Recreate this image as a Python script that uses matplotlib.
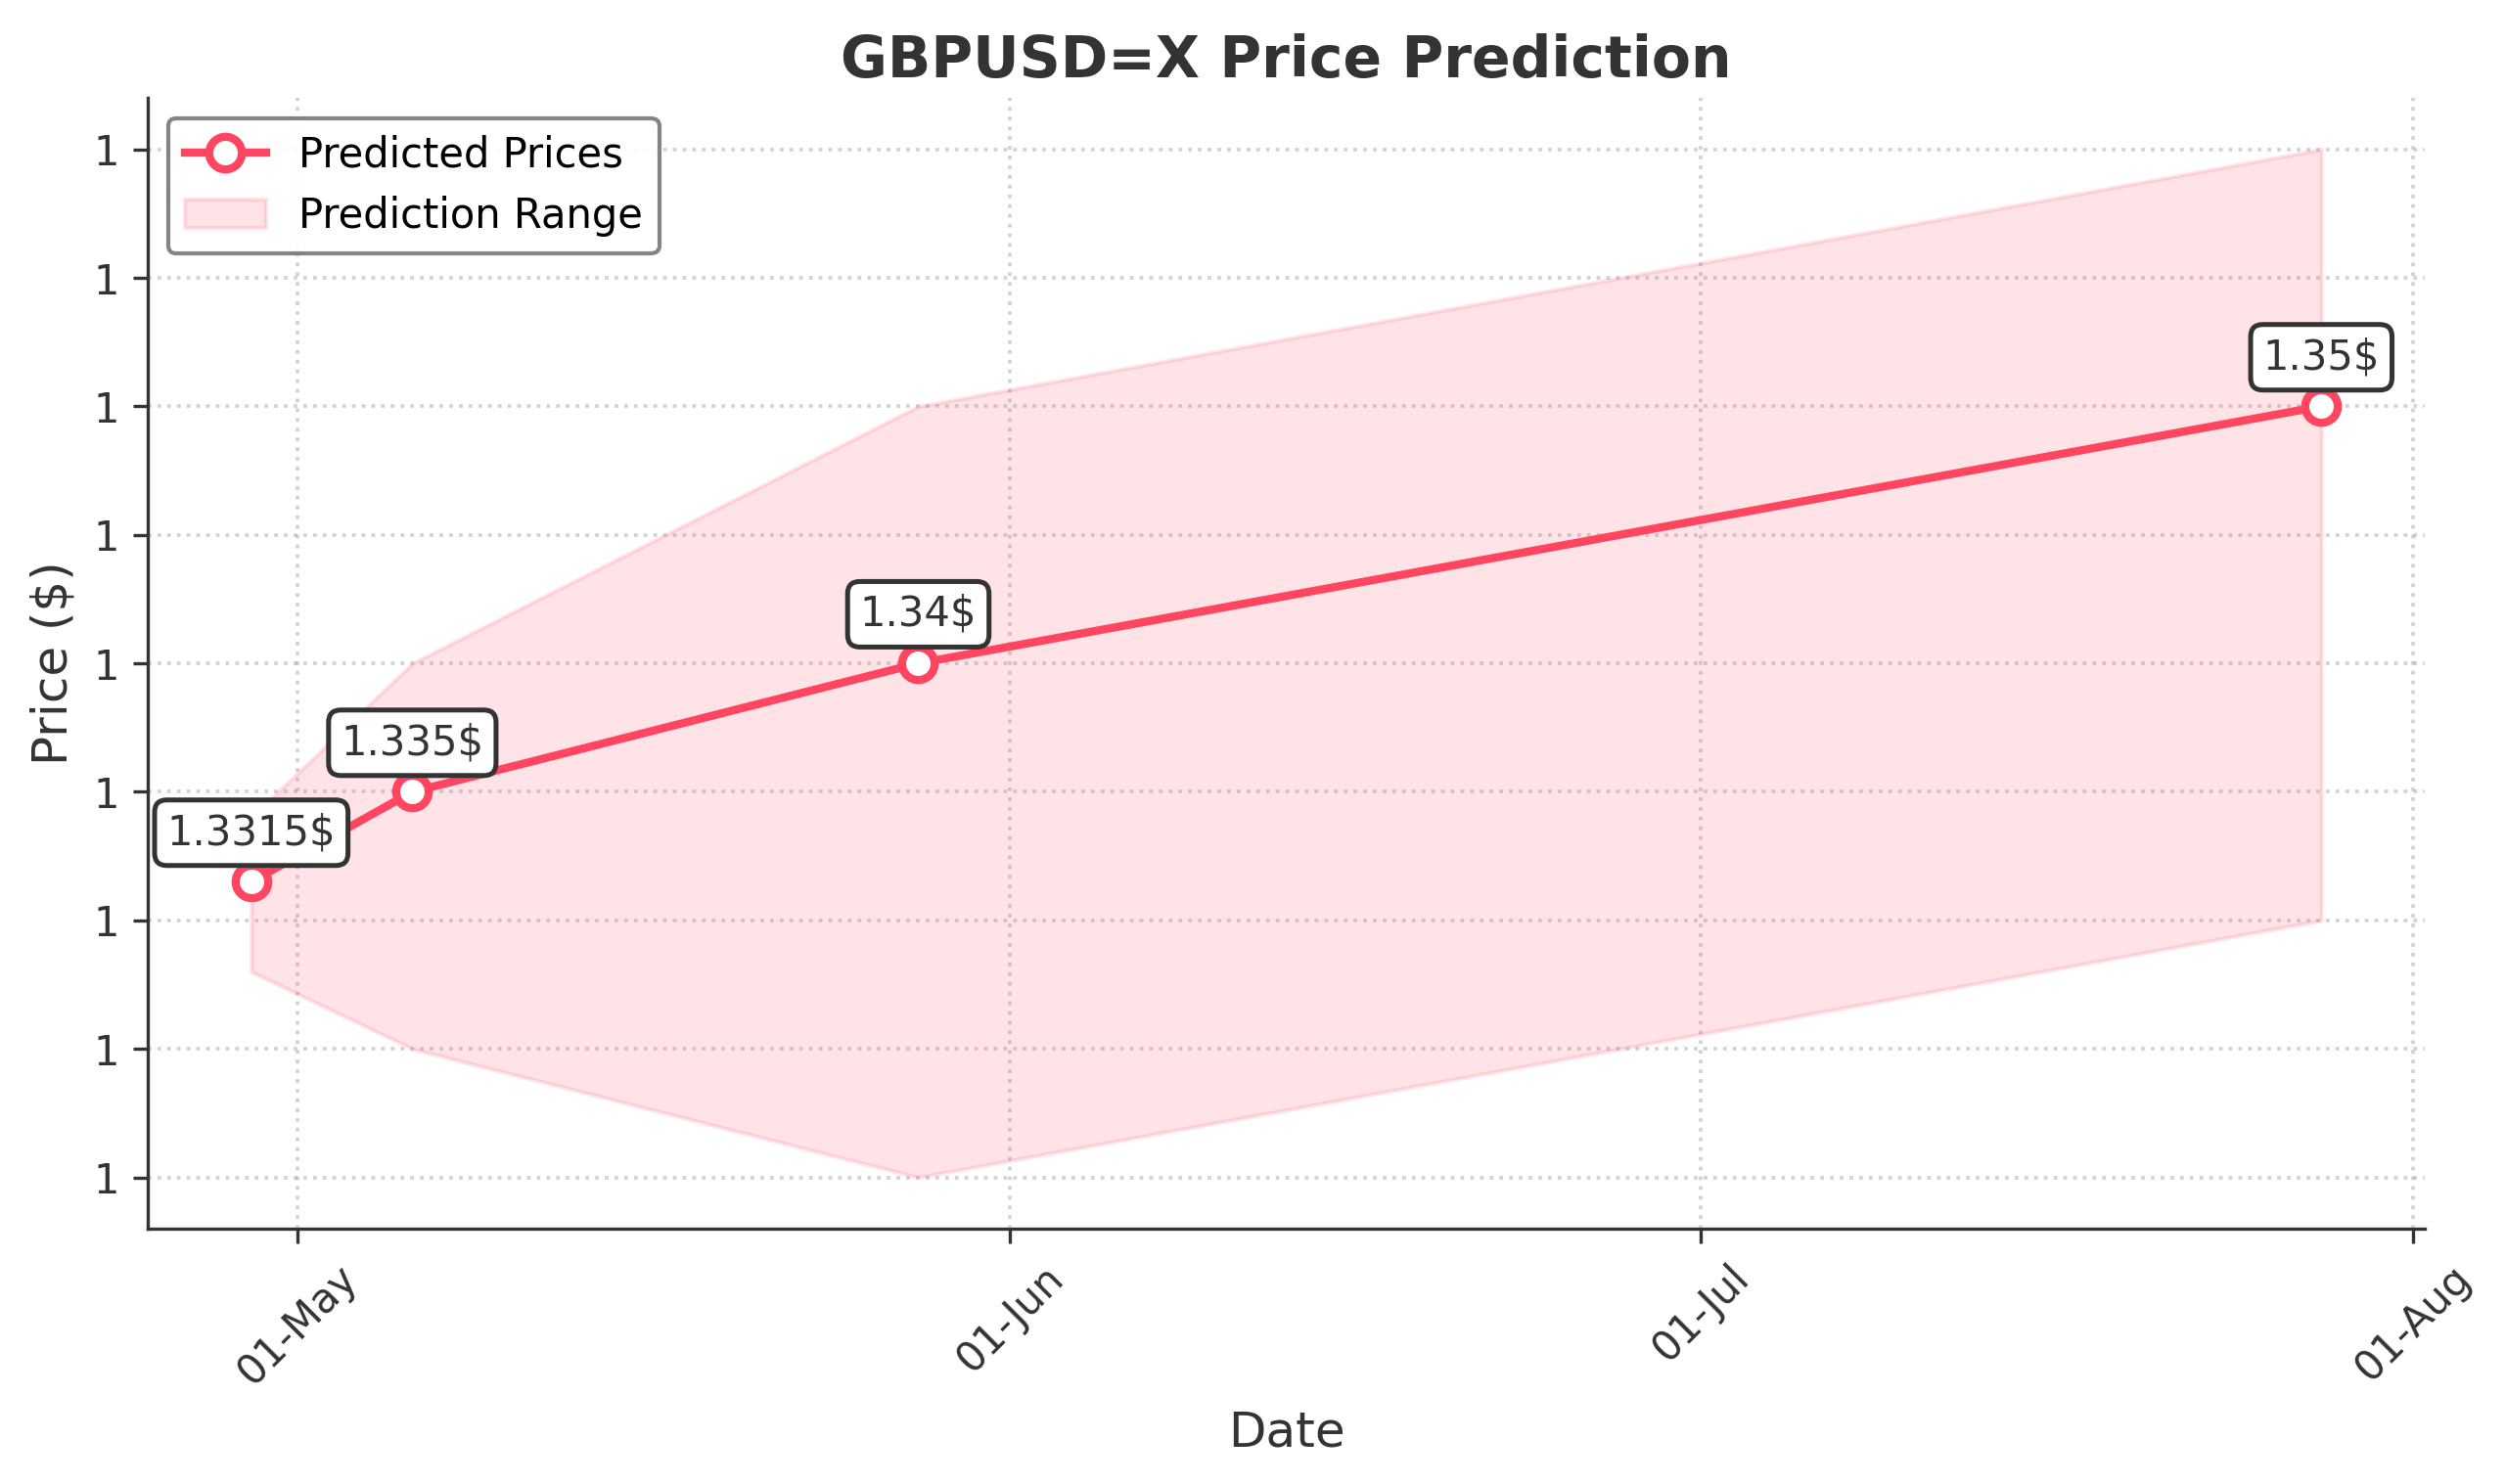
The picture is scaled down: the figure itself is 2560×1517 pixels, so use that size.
import matplotlib
matplotlib.use('Agg')
import matplotlib.pyplot as plt
import matplotlib.dates as mdates
import matplotlib.ticker as mticker
import pandas as pd

# values
dates = pd.to_datetime(['2025-04-29', '2025-05-06', '2025-05-28', '2025-07-28'])
predicted = [1.3315, 1.335, 1.34, 1.35]
lower = [1.328, 1.325, 1.32, 1.33]
upper = [1.334, 1.34, 1.35, 1.36]
labels = ['1.3315$', '1.335$', '1.34$', '1.35$']

LINE = '#FF4560'
DARK = '#333333'

fig = plt.figure(figsize=(2560 / 300, 1517 / 300), dpi=300)
ax = fig.add_axes([0.059, 0.172, 0.909, 0.762])

ax.plot(dates, predicted, color=LINE, linewidth=2, marker='o', markersize=8,
        markerfacecolor='white', markeredgewidth=2, markeredgecolor=LINE,
        label='Predicted Prices', zorder=3)
ax.fill_between(dates, lower, upper, color=LINE, alpha=0.15, label='Prediction Range')

for d, p, t in zip(dates, predicted, labels):
    ax.annotate(t, (d, p), xytext=(0, 7), textcoords='offset points',
                ha='center', va='bottom', fontsize=10, color=DARK,
                bbox=dict(boxstyle='round,pad=0.3', fc='white', ec=DARK, lw=1.2),
                zorder=4)

ax.set_title('GBPUSD=X Price Prediction', fontsize=14, fontweight='bold', color=DARK, pad=5)
ax.set_xlabel('Date', fontsize=12, color=DARK)
ax.set_ylabel('Price ($)', fontsize=12, color=DARK)

ax.xaxis.set_major_locator(mdates.MonthLocator())
ax.xaxis.set_major_formatter(mdates.DateFormatter('%d-%b'))
ax.yaxis.set_major_locator(mticker.MultipleLocator(0.005))
ax.yaxis.set_major_formatter(mticker.FormatStrFormatter('%.0f'))
plt.setp(ax.get_xticklabels(), rotation=45)
ax.tick_params(colors=DARK, labelsize=10)

ax.grid(True, linestyle=':', color='gray', alpha=0.35, linewidth=0.9)
for s in ['top', 'right']:
    ax.spines[s].set_visible(False)
for s in ['left', 'bottom']:
    ax.spines[s].set_color(DARK)

leg = ax.legend(loc='upper left', fontsize=10, edgecolor='#777777', framealpha=0.9)
leg.get_frame().set_linewidth(1.0)

fig.savefig('out.png', dpi=300)
